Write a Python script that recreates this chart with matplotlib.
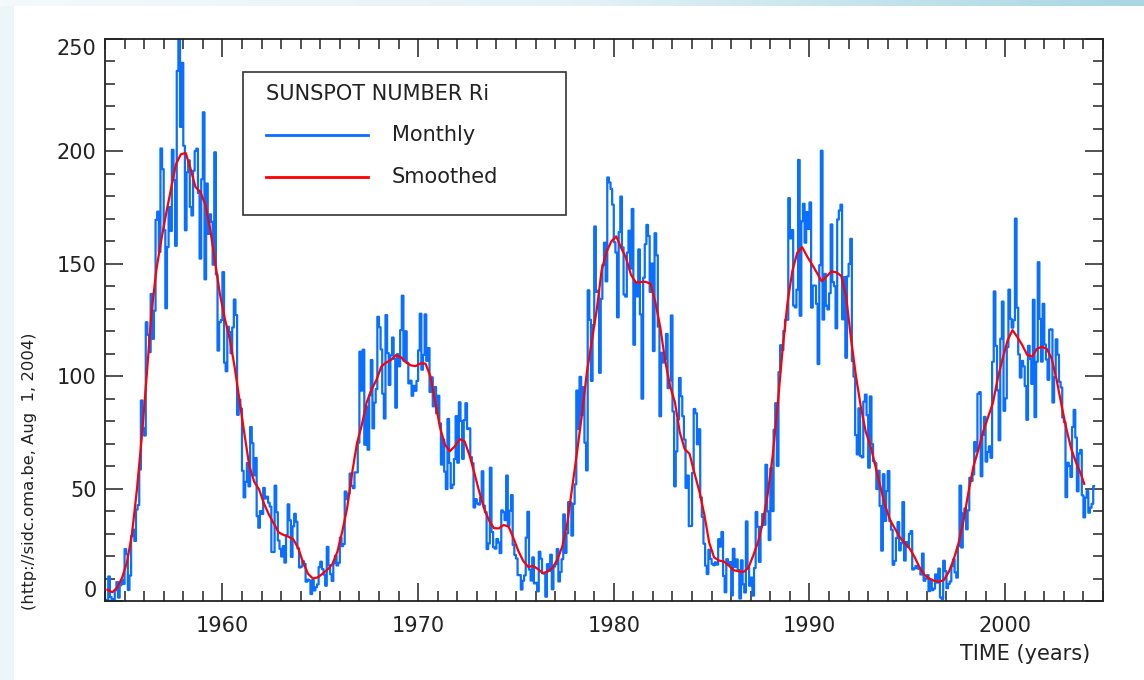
import numpy as np
import matplotlib
matplotlib.use('Agg')
import matplotlib.pyplot as plt
from matplotlib.patches import Rectangle
from matplotlib.colors import LinearSegmentedColormap

# Sunspot number Ri, monthly values, Jan 1954 .. Jul 2004
start_year = 1954
monthly = [
    0.2, 0.5, 10.9, 1.8, 0.8, 0.2, 4.8, 8.4, 1.5, 7.0, 9.2, 7.6,                      # 1954
    23.1, 20.8, 4.9, 11.3, 28.9, 31.7, 26.7, 40.7, 42.7, 58.5, 89.2, 76.9,            # 1955
    73.6, 124.0, 118.4, 110.7, 136.6, 116.6, 129.1, 169.6, 173.2, 155.3, 201.3, 192.1,  # 1956
    165.0, 130.2, 157.4, 175.2, 164.6, 200.7, 187.2, 158.0, 235.8, 253.8, 210.9, 239.4,  # 1957
    202.5, 164.9, 190.7, 196.0, 175.3, 171.5, 191.4, 200.2, 201.2, 181.5, 152.3, 187.6,  # 1958
    217.4, 143.1, 185.7, 163.3, 172.0, 168.7, 149.6, 199.6, 145.2, 111.4, 124.0, 125.0,  # 1959
    146.3, 106.0, 102.2, 122.0, 119.6, 110.2, 121.7, 134.1, 127.2, 82.8, 89.6, 85.6,    # 1960
    57.9, 46.1, 53.0, 61.4, 51.0, 77.4, 70.2, 55.9, 63.6, 37.7, 32.6, 40.0,           # 1961
    38.7, 50.3, 45.6, 46.4, 43.7, 42.0, 21.8, 21.8, 51.3, 39.5, 26.9, 23.2,           # 1962
    19.8, 24.4, 17.1, 29.3, 43.0, 35.9, 19.6, 33.2, 38.8, 35.3, 23.4, 14.9,           # 1963
    15.3, 17.7, 16.5, 8.6, 9.5, 9.1, 3.1, 9.3, 4.7, 6.1, 7.4, 15.1,                   # 1964
    17.5, 14.2, 11.7, 6.8, 24.1, 15.9, 11.9, 8.9, 16.8, 20.1, 15.8, 17.0,             # 1965
    28.2, 24.4, 25.3, 48.7, 45.3, 47.7, 56.7, 51.2, 50.2, 57.2, 57.2, 70.4,           # 1966
    110.9, 93.6, 111.8, 69.5, 86.5, 67.3, 91.5, 107.2, 76.8, 88.2, 94.3, 126.4,       # 1967
    121.8, 111.9, 92.2, 81.2, 127.2, 110.3, 96.1, 109.3, 117.2, 107.7, 86.0, 109.8,   # 1968
    104.4, 120.5, 135.8, 106.8, 120.0, 106.0, 96.8, 98.0, 91.3, 95.7, 93.5, 97.9,     # 1969
    111.5, 127.8, 102.9, 109.5, 127.5, 106.8, 112.5, 93.0, 99.5, 86.6, 95.2, 83.5,    # 1970
    91.3, 79.0, 60.7, 71.8, 57.5, 49.8, 81.0, 61.4, 50.2, 51.7, 63.2, 82.2,           # 1971
    61.5, 88.4, 80.1, 63.2, 80.5, 88.0, 76.5, 76.8, 64.0, 61.3, 41.6, 45.3,           # 1972
    43.4, 42.9, 46.0, 57.7, 42.4, 39.5, 23.1, 25.6, 59.3, 30.7, 23.9, 23.3,           # 1973
    27.6, 26.0, 21.3, 40.3, 39.5, 36.0, 55.8, 33.6, 40.2, 47.1, 25.0, 20.5,           # 1974
    18.9, 11.5, 11.5, 5.1, 9.0, 11.4, 28.2, 39.7, 13.9, 9.1, 19.4, 7.8,               # 1975
    8.1, 4.3, 21.9, 18.8, 12.4, 12.2, 1.9, 16.4, 13.5, 20.6, 5.2, 15.3,               # 1976
    16.4, 23.1, 8.7, 12.9, 18.6, 38.5, 21.4, 30.1, 44.0, 43.8, 29.1, 43.2,            # 1977
    51.9, 93.6, 76.5, 99.7, 82.7, 95.1, 70.4, 58.1, 138.2, 125.1, 97.9, 122.7,        # 1978
    166.6, 137.5, 138.0, 101.5, 134.4, 149.5, 159.4, 142.2, 188.4, 186.2, 183.3, 176.3,  # 1979
    159.6, 155.0, 126.2, 164.1, 179.9, 157.3, 136.3, 135.4, 155.0, 164.7, 147.9, 174.4,  # 1980
    114.0, 141.3, 135.5, 156.4, 127.5, 90.0, 143.8, 158.7, 167.3, 162.4, 137.5, 150.1,   # 1981
    111.2, 163.6, 153.8, 122.0, 82.2, 110.4, 106.1, 107.6, 118.8, 94.7, 98.1, 127.0,     # 1982
    84.3, 51.0, 66.5, 80.7, 99.2, 91.1, 82.2, 71.8, 50.3, 55.8, 33.3, 33.4,           # 1983
    57.0, 85.4, 83.5, 69.7, 76.4, 46.1, 37.4, 25.5, 15.7, 12.0, 22.8, 18.7,           # 1984
    16.5, 15.9, 17.2, 16.2, 27.5, 24.2, 30.7, 11.1, 3.9, 18.6, 16.2, 17.3,            # 1985
    2.5, 23.2, 15.1, 18.5, 13.7, 1.1, 18.1, 7.4, 3.8, 35.4, 15.2, 6.8,                # 1986
    10.4, 2.4, 14.7, 39.6, 33.0, 17.4, 33.0, 38.7, 33.9, 60.6, 39.9, 27.1,            # 1987
    59.0, 40.0, 76.2, 88.0, 60.1, 101.8, 113.8, 111.6, 120.1, 125.1, 125.1, 179.2,    # 1988
    161.3, 165.0, 131.4, 130.6, 138.5, 196.2, 126.9, 168.9, 176.7, 159.4, 173.0, 165.5,  # 1989
    177.3, 130.5, 140.3, 140.3, 132.2, 105.4, 149.4, 200.3, 125.2, 145.5, 131.4, 129.7,  # 1990
    136.9, 167.5, 141.9, 140.0, 121.3, 169.7, 173.7, 176.3, 125.3, 144.1, 108.2, 144.4,  # 1991
    150.0, 161.1, 106.7, 99.8, 73.8, 65.2, 85.7, 64.5, 63.9, 88.7, 91.8, 82.6,        # 1992
    59.3, 91.0, 69.8, 62.2, 61.3, 49.8, 57.9, 42.2, 22.4, 56.4, 35.6, 48.9,           # 1993
    57.8, 35.5, 31.7, 16.1, 17.8, 28.0, 35.1, 22.5, 25.7, 44.0, 18.0, 26.2,           # 1994
    24.2, 29.9, 31.1, 14.0, 14.5, 15.6, 14.5, 14.3, 11.8, 21.1, 9.0, 10.0,            # 1995
    11.5, 4.4, 9.2, 4.8, 5.5, 11.8, 8.2, 14.4, 1.6, 0.9, 17.9, 13.3,                  # 1996
    5.7, 7.6, 8.7, 15.5, 18.5, 12.7, 10.4, 24.4, 51.3, 23.8, 39.0, 41.2,              # 1997
    31.9, 40.3, 54.8, 53.4, 56.3, 70.7, 66.6, 92.2, 92.9, 55.5, 74.0, 81.9,           # 1998
    62.0, 66.3, 68.8, 63.7, 106.4, 137.7, 113.5, 93.7, 71.5, 116.7, 133.2, 84.6,      # 1999
    90.1, 112.9, 138.5, 125.5, 121.6, 124.9, 170.1, 130.5, 109.7, 99.4, 106.8, 104.4,  # 2000
    95.6, 80.6, 113.5, 107.7, 96.6, 134.0, 81.8, 106.4, 150.7, 125.5, 106.5, 132.2,   # 2001
    114.1, 107.4, 98.4, 120.7, 120.8, 88.3, 99.6, 116.4, 109.6, 97.5, 95.0, 81.6,     # 2002
    79.5, 46.2, 61.5, 60.0, 55.2, 77.4, 85.0, 72.7, 48.8, 65.6, 67.2, 47.0,           # 2003
    37.2, 46.0, 48.9, 39.3, 41.5, 43.2, 51.1,                                         # 2004
]

# smoothed sunspot number, one value per quarter (1954 Q1 .. 2003 Q4)
smoothed = [
    5.0, 3.9, 6.0, 10.4,          # 1954
    17.3, 29.6, 49.1, 72.4,       # 1955
    99.6, 128.2, 147.4, 160.5,    # 1956
    172.4, 183.4, 194.3, 198.7,   # 1957
    199.3, 192.2, 184.1, 182.0,   # 1958
    176.3, 165.5, 150.8, 136.4,   # 1959
    125.5, 116.6, 104.1, 89.1,    # 1960
    74.3, 60.1, 53.0, 49.6,       # 1961
    43.3, 38.5, 34.5, 30.5,       # 1962
    29.4, 28.6, 27.4, 23.5,       # 1963
    17.1, 12.1, 10.0, 10.5,       # 1964
    12.2, 14.0, 16.5, 21.9,       # 1965
    30.9, 41.4, 56.8, 70.1,       # 1966
    78.4, 88.5, 94.1, 98.4,       # 1967
    104.4, 106.1, 107.3, 109.4,   # 1968
    108.4, 106.2, 104.8, 104.5,   # 1969
    105.7, 105.6, 100.1, 88.6,    # 1970
    77.0, 69.5, 66.6, 68.8,       # 1971
    72.0, 71.0, 64.9, 56.9,       # 1972
    48.6, 41.1, 35.8, 32.4,       # 1973
    32.3, 33.8, 33.1, 27.9,       # 1974
    22.2, 17.8, 15.2, 15.6,       # 1975
    14.2, 12.4, 13.1, 14.8,       # 1976
    18.6, 24.4, 34.7, 50.6,       # 1977
    66.4, 83.1, 101.8, 115.5,     # 1978
    129.3, 146.9, 155.2, 160.0,   # 1979
    162.2, 157.1, 152.6, 145.2,   # 1980
    141.7, 141.9, 142.0, 141.1,   # 1981
    132.9, 121.7, 106.9, 95.6,    # 1982
    88.4, 74.9, 67.6, 65.4,       # 1983
    56.8, 48.7, 38.5, 26.0,       # 1984
    19.4, 18.0, 17.6, 15.8,       # 1985
    13.7, 13.2, 12.9, 14.7,       # 1986
    20.2, 26.3, 35.4, 48.2,       # 1987
    64.9, 87.4, 111.8, 132.5,     # 1988
    146.8, 154.9, 157.4, 153.4,   # 1989
    149.8, 146.1, 142.2, 144.4,   # 1990
    146.6, 146.2, 144.6, 135.4,   # 1991
    116.5, 100.1, 86.3, 75.3,     # 1992
    68.8, 59.8, 50.8, 42.2,       # 1993
    35.9, 32.1, 28.2, 25.8,       # 1994
    23.3, 19.5, 15.0, 11.6,       # 1995
    10.0, 9.0, 8.5, 9.4,          # 1996
    13.0, 18.6, 26.0, 35.9,       # 1997
    48.4, 59.7, 67.1, 75.4,       # 1998
    81.8, 88.1, 99.2, 107.9,      # 1999
    116.0, 120.5, 117.4, 113.8,   # 2000
    109.5, 108.7, 112.2, 113.1,   # 2001
    112.2, 107.9, 98.6, 87.3,     # 2002
    76.7, 67.8, 61.5, 56.4,       # 2003
]
smoothed_last = 52.1  # Jan 2004

# x positions (decimal years, middle of each month / quarter)
t_month = start_year + (np.arange(len(monthly)) + 0.5) / 12.0
t_smooth = start_year + (np.arange(len(smoothed)) * 3 + 1.5) / 12.0
t_smooth = np.append(t_smooth, 2004 + 0.5 / 12.0)
s_vals = np.append(smoothed, smoothed_last)

W, H = 1144, 680
fig = plt.figure(figsize=(W / 100, H / 100), dpi=100, facecolor='#ecf6f9')

# white page with a thin gradient strip on top
fig.add_artist(Rectangle((14 / W, 0), 1, 1 - 6 / H, transform=fig.transFigure,
                         facecolor='white', edgecolor='none', zorder=-2))
bg = fig.add_axes([0, 1 - 6 / H, 1, 6 / H], zorder=-1)
grad_cmap = LinearSegmentedColormap.from_list('strip', ['#f4fafc', '#e4f2f6', '#a8d6e3'])
bg.imshow(np.linspace(0, 1, 256)[None, :], aspect='auto', cmap=grad_cmap,
          extent=(0, 1, 0, 1))
bg.axis('off')

ax = fig.add_axes([105 / W, 1 - 601 / H, 998 / W, 562 / H])

blue = '#0a6fff'
red = '#ff0000'
ax.plot(t_month, monthly, color=blue, lw=1.6, drawstyle='steps-mid')
ax.plot(t_smooth, s_vals, color=red, lw=1.6)

ax.set_xlim(1954, 2005)
ax.set_ylim(0, 250)
ax.set_xticks(range(1960, 2001, 10))
ax.set_xticks(range(1954, 2006), minor=True)
ax.set_yticks(range(0, 251, 50))
ax.set_yticks(range(0, 251, 10), minor=True)

dark = '#222222'
ax.tick_params(which='both', direction='in', top=True, right=True,
               color=dark, labelcolor=dark, width=1.1)
ax.tick_params(which='major', length=13, labelsize=15)
ax.tick_params(which='minor', length=7)
ax.tick_params(axis='x', which='major', pad=11)
ax.tick_params(axis='y', which='major', pad=6)
for sp in ax.spines.values():
    sp.set_linewidth(1.3)
    sp.set_color(dark)

yt = ax.yaxis.get_major_ticks()
yt[0].label1.set_va('bottom')
yt[-1].label1.set_va('top')

# legend box drawn by hand
ax.add_patch(Rectangle((0.1383, 0.6868), 0.3236, 0.2545, transform=ax.transAxes,
                       facecolor='white', edgecolor='#333333', lw=1.2, zorder=5))
ax.text(0.1613, 0.902, 'SUNSPOT NUMBER Ri', transform=ax.transAxes,
        fontsize=15, color=dark, va='center', ha='left', zorder=6)
ax.plot([0.1613, 0.2635], [0.8292, 0.8292], transform=ax.transAxes,
        color=blue, lw=2, zorder=6)
ax.plot([0.1613, 0.2635], [0.7544, 0.7544], transform=ax.transAxes,
        color=red, lw=2, zorder=6)
ax.text(0.2876, 0.8292, 'Monthly', transform=ax.transAxes,
        fontsize=15, color=dark, va='center', ha='left', zorder=6)
ax.text(0.2876, 0.7544, 'Smoothed', transform=ax.transAxes,
        fontsize=15, color=dark, va='center', ha='left', zorder=6)

fig.text(1090 / W, 1 - 654 / H, 'TIME (years)', fontsize=15, color=dark,
         ha='right', va='center')
fig.text(30 / W, 1 - 471 / H, '(http://sidc.oma.be, Aug  1, 2004)', fontsize=11.8,
         color=dark, rotation=90, ha='center', va='center')

fig.savefig('out.png', dpi=100, facecolor=fig.get_facecolor())
